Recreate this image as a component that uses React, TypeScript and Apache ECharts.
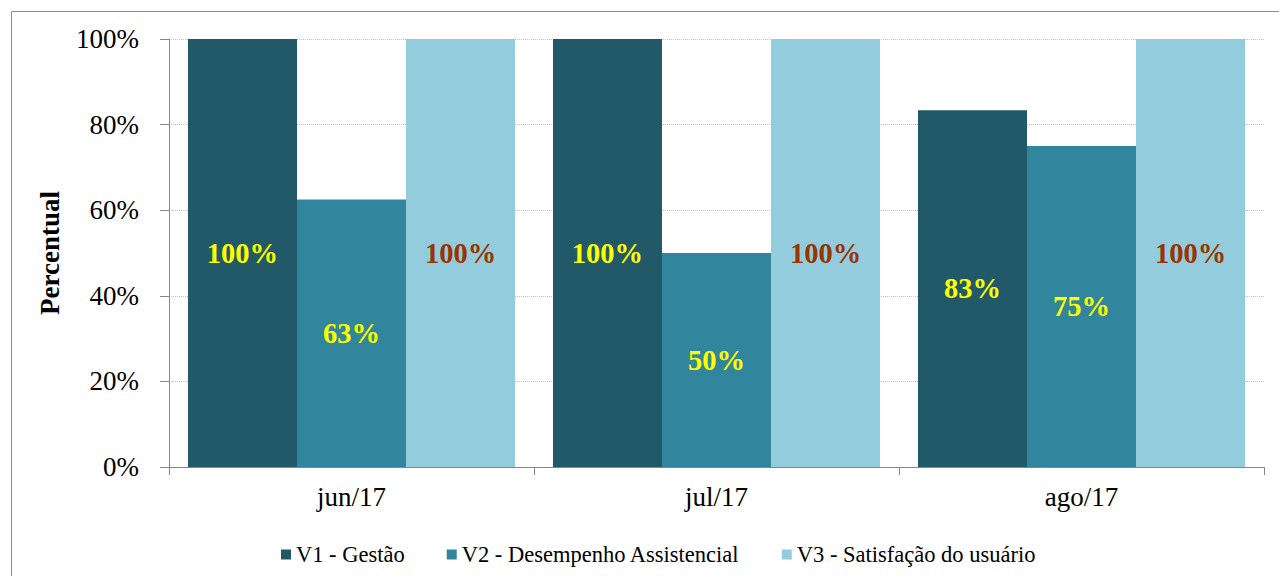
import React, { useEffect, useRef } from "react";
import * as echarts from "echarts";

const categories = ["jun/17", "jul/17", "ago/17"];
const seriesNames = ["V1 - Gestão", "V2 - Desempenho Assistencial", "V3 - Satisfação do usuário"];
const v1Values = [100, 100, 83.33];
const v2Values = [62.5, 50, 75];
const v3Values = [100, 100, 100];
const yTicks = [0, 20, 40, 60, 80, 100];

const colors = ["#215968", "#31859C", "#93CDDD"];
const labelColors = ["#FFFF00", "#FFFF00", "#993300"];
const FONT = "Liberation Serif";

export default function App() {
  const ref = useRef<HTMLDivElement>(null);
  useEffect(() => {
    if (!ref.current) return;
    const chart = echarts.init(ref.current, null, { renderer: "svg" });
    const data = [v1Values, v2Values, v3Values];
    chart.setOption({
      animation: false,
      textStyle: { fontFamily: FONT },
      graphic: [
        {
          type: "rect",
          shape: { x: 11.5, y: 11.5, width: 1300, height: 600 },
          style: { fill: "none", stroke: "#8c8c8c", lineWidth: 1 },
          silent: true,
          z: -1,
        },
      ],
      grid: { left: 169, right: 15, top: 39, bottom: 109 },
      legend: {
        left: 276,
        top: 538,
        icon: "rect",
        itemWidth: 10,
        itemHeight: 10,
        itemGap: 42,
        itemStyle: { borderWidth: 0 },
        textStyle: { fontFamily: FONT, fontSize: 22.5, color: "#000" },
        data: seriesNames,
      },
      xAxis: {
        type: "category",
        data: categories,
        axisLine: { lineStyle: { color: "#868686" } },
        axisTick: { show: true, length: 8, lineStyle: { color: "#868686" } },
        axisLabel: { fontFamily: FONT, fontSize: 27, color: "#000", margin: 16 },
      },
      yAxis: {
        type: "value",
        min: yTicks[0],
        max: yTicks[yTicks.length - 1],
        interval: 20,
        name: "Percentual",
        nameLocation: "middle",
        nameGap: 106,
        nameTextStyle: { fontFamily: FONT, fontSize: 27, fontWeight: "bold", color: "#000" },
        axisLine: { show: true, lineStyle: { color: "#868686" } },
        axisTick: { show: true, length: 9, lineStyle: { color: "#868686" } },
        axisLabel: { fontFamily: FONT, fontSize: 27, color: "#000", margin: 30, formatter: "{value}%" },
        splitLine: { show: true, lineStyle: { color: "#c0c0c0", type: "dotted", width: 1 } },
      },
      series: seriesNames.map((name, i) => ({
        name,
        type: "bar",
        data: data[i],
        barGap: "0%",
        barCategoryGap: "10.4%",
        itemStyle: { color: colors[i] },
        label: {
          show: true,
          position: "inside",
          formatter: (p: any) => Math.round(p.value) + "%",
          fontFamily: FONT,
          fontSize: 28.5,
          fontWeight: "bold",
          color: labelColors[i],
        },
      })),
    });
    return () => chart.dispose();
  }, []);
  return (
    <div
      ref={ref}
      style={{ position: "fixed", left: 0, top: 0, width: 1279, height: 576, background: "#fff" }}
    />
  );
}
